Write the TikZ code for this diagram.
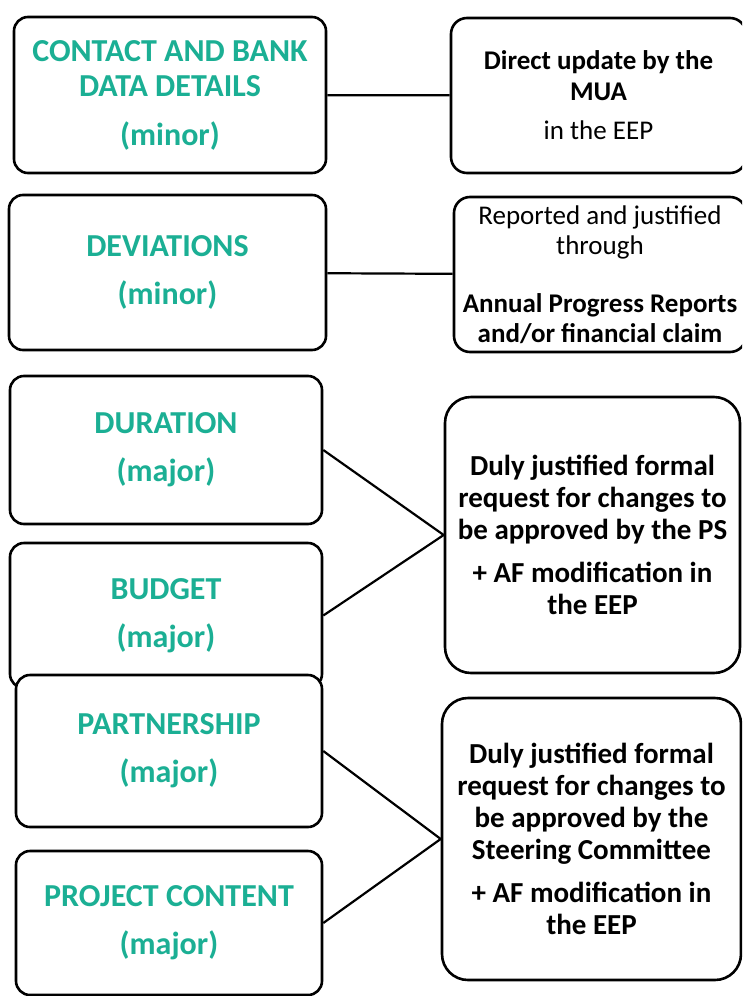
\documentclass[tikz,border=0pt]{standalone}
\usepackage{fontspec}
\setmainfont{Carlito}
\usepackage{tikz}
\definecolor{topicgreen}{RGB}{27,175,148}

\begin{document}
\begin{tikzpicture}[
  x=1pt, y=-1pt,
  line width=2.6pt,
  every node/.style={align=center, inner sep=0pt},
  topic/.style={draw, fill=white, rounded corners=14pt, text=topicgreen,
    font=\bfseries\fontsize{32}{35}\selectfont},
  action/.style={draw, fill=white, rounded corners=16pt,
    font=\fontsize{27}{30.5}\selectfont},
  tall/.style={action, rounded corners=26pt, font=\bfseries\fontsize{29}{32}\selectfont},
  link/.style={line width=2.2pt}
  ]
\useasboundingbox (0,0) rectangle (742,996);
\clip (0,0) rectangle (742,996);
\node[topic, minimum width=312pt, minimum height=156pt] (contact) at (170,95)
  {CONTACT AND BANK\\DATA DETAILS\\[14pt](minor)};
\node[topic, minimum width=317pt, minimum height=155pt] (deviations) at (167.5,272.5)
  {DEVIATIONS\\[13pt](minor)};
\node[topic, minimum width=312pt, minimum height=148pt] (duration) at (166,450)
  {DURATION\\[13pt](major)};
\node[topic, minimum width=312pt, minimum height=145pt] (budget) at (166,615.5)
  {BUDGET\\[13pt](major)};
\node[topic, minimum width=306pt, minimum height=152pt] (partnership) at (169,751)
  {PARTNERSHIP\\[13pt](major)};
\node[topic, minimum width=306pt, minimum height=144pt] (content) at (169,923)
  {PROJECT CONTENT\\[13pt](major)};

\node[action, minimum width=295pt, minimum height=155pt] (update) at (598.5,95.5)
  {\textbf{Direct update by the}\\\textbf{MUA}\\[9pt]in the EEP};
\node[action, minimum width=292pt, minimum height=155pt] (reported) at (600,274.5)
  {Reported and justified\\through\\[27pt]\textbf{Annual Progress Reports}\\\textbf{and/or financial claim}};
\node[tall, minimum width=295pt, minimum height=276pt] (approvalps) at (592.5,535)
  {Duly justified formal\\request for changes to\\be approved by the PS\\[11pt]+ AF modification in\\the EEP};
\node[tall, minimum width=299pt, minimum height=282pt] (approvalsc) at (591.5,839)
  {Duly justified formal\\request for changes to\\be approved by the\\Steering Committee\\[11pt]+ AF modification in\\the EEP};

\draw[link] (contact) -- (update);
\draw[link] (deviations) -- (reported);
\draw[link] (duration.east) -- (approvalps.west);
\draw[link] (budget.east) -- (approvalps.west);
\draw[link] (partnership.east) -- (approvalsc.west);
\draw[link] (content.east) -- (approvalsc.west);
\end{tikzpicture}
\end{document}
